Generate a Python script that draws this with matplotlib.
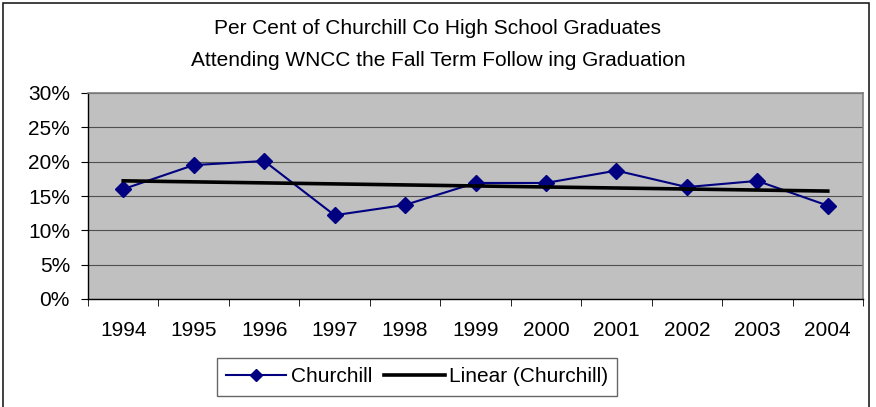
import numpy as np
import matplotlib
matplotlib.use("Agg")
import matplotlib.pyplot as plt
from matplotlib.patches import Rectangle
from matplotlib.lines import Line2D
from matplotlib.ticker import FixedLocator, PercentFormatter

plt.rcParams['font.family'] = ['Liberation Sans', 'DejaVu Sans']

# == data == #
years = ['1994', '1995', '1996', '1997', '1998', '1999', '2000', '2001', '2002', '2003', '2004']
pct = [16.0, 19.5, 20.1, 12.2, 13.7, 16.9, 16.9, 18.7, 16.3, 17.2, 13.6]

x = np.arange(len(years))
# linear trendline as Excel computes it
slope, icpt = np.polyfit(x, pct, 1)
trend = slope * x + icpt

W, H = 876, 407
FS = 15
fig = plt.figure(figsize=(W / 100, H / 100), dpi=100)

# chart area border (bottom runs past the image)
fig.patches.append(Rectangle((3 / W, -0.05), 866 / W, 1 - 3 / H + 0.05,
                             transform=fig.transFigure, fill=False,
                             edgecolor='#202020', linewidth=1.2))

ax = fig.add_axes([88 / W, 1 - 299 / H, (863 - 88) / W, (299 - 93) / H])
ax.set_facecolor('#C0C0C0')

ax.plot(x, pct, color='#000080', linewidth=1.5, marker='D', markersize=8, zorder=3)
ax.plot(x, trend, color='black', linewidth=2.6, zorder=4)

ax.set_ylim(0, 30)
ax.set_xlim(-0.5, len(years) - 0.5)
ax.set_yticks(np.arange(0, 31, 5))
ax.yaxis.set_major_formatter(PercentFormatter(decimals=0))
ax.yaxis.grid(True, color='#505050', linewidth=0.8)
ax.set_axisbelow(True)

ax.set_xticks(x)
ax.set_xticklabels(years)
ax.xaxis.set_minor_locator(FixedLocator(np.arange(-0.5, len(years), 1)))
ax.tick_params(axis='x', which='major', length=0, pad=16, labelsize=FS)
ax.tick_params(axis='x', which='minor', length=5, direction='out', color='black')
ax.tick_params(axis='y', length=5, direction='out', pad=8, labelsize=FS)

for s in ['top', 'right']:
    ax.spines[s].set_color('#808080')
    ax.spines[s].set_linewidth(1.2)
for s in ['left', 'bottom']:
    ax.spines[s].set_color('black')
    ax.spines[s].set_linewidth(1.0)

fig.text(0.5, 1 - 28 / H, 'Per Cent of Churchill Co High School Graduates',
         ha='center', va='center', fontsize=FS)
fig.text(0.5, 1 - 60 / H, 'Attending WNCC the Fall Term Follow ing Graduation',
         ha='center', va='center', fontsize=FS)

handles = [Line2D([], [], color='#000080', linewidth=1.5, marker='D', markersize=6),
           Line2D([], [], color='black', linewidth=2.6)]
leg = fig.legend(handles, ['Churchill', 'Linear (Churchill)'], loc='center',
                 bbox_to_anchor=(417 / W, 1 - 377 / H), ncol=2,
                 frameon=True, fancybox=False, fontsize=FS, handlelength=2.9,
                 columnspacing=0.6, handletextpad=0.2, borderpad=0.45)
leg.get_frame().set_edgecolor('#404040')
leg.get_frame().set_linewidth(1.0)

fig.savefig('out.png', dpi=100)
